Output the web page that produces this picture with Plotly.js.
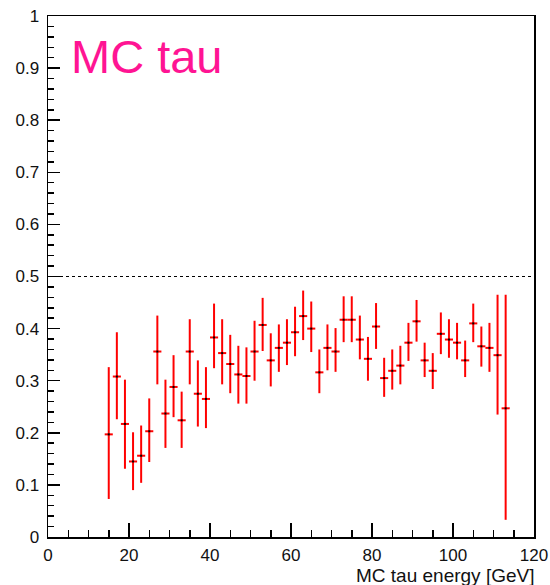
<!DOCTYPE html>
<html>
<head>
<meta charset="utf-8">
<script src="https://cdn.plot.ly/plotly-3.0.1.min.js"></script>
<style>html,body{margin:0;padding:0;background:#fff;}#chart{width:550px;height:585px;}</style>
</head>
<body>
<div id="chart"></div>
<script>
// MC tau energy bin centres [GeV]
var energy = [15,17,19,21,23,25,27,29,31,33,35,37,39,41,43,45,47,49,51,53,55,57,59,61,63,65,67,69,71,73,75,77,79,81,83,85,87,89,91,93,95,97,99,101,103,105,107,109,111,113];
// efficiency values
var eff = [0.197,0.308,0.217,0.145,0.156,0.203,0.356,0.237,0.288,0.224,0.356,0.275,0.265,0.383,0.353,0.332,0.312,0.309,0.356,0.407,0.339,0.363,0.373,0.393,0.424,0.400,0.316,0.363,0.356,0.417,0.417,0.379,0.342,0.404,0.305,0.319,0.329,0.373,0.414,0.339,0.319,0.390,0.379,0.373,0.339,0.410,0.366,0.363,0.349,0.247];
// upper ends of error bars
var effHigh = [0.326,0.393,0.302,0.201,0.214,0.266,0.425,0.302,0.349,0.279,0.418,0.339,0.326,0.448,0.418,0.388,0.367,0.364,0.415,0.459,0.391,0.408,0.418,0.442,0.473,0.452,0.360,0.408,0.401,0.462,0.462,0.425,0.384,0.449,0.344,0.360,0.367,0.411,0.455,0.373,0.353,0.431,0.418,0.411,0.377,0.448,0.404,0.411,0.465,0.465];
// lower ends of error bars
var effLow = [0.073,0.226,0.131,0.090,0.104,0.144,0.293,0.171,0.230,0.171,0.293,0.212,0.209,0.324,0.293,0.276,0.256,0.256,0.300,0.357,0.289,0.317,0.330,0.347,0.378,0.355,0.276,0.320,0.317,0.374,0.374,0.341,0.300,0.361,0.269,0.283,0.293,0.338,0.375,0.307,0.284,0.351,0.344,0.341,0.307,0.374,0.327,0.317,0.235,0.033];
var binHalfWidth = 1;
var refLevel = 0.5;

var errPlus = eff.map(function(v,i){return effHigh[i]-v;});
var errMinus = eff.map(function(v,i){return v-effLow[i];});

var trace = {
  x: energy, y: eff, type: 'scatter', mode: 'markers',
  marker: {symbol: 'square', size: 2, color: '#000'},
  error_x: {type: 'constant', value: binHalfWidth, width: 0, thickness: 2, color: '#ff0000'},
  error_y: {type: 'data', symmetric: false, array: errPlus, arrayminus: errMinus, width: 0, thickness: 2, color: '#ff0000'},
  hoverinfo: 'x+y'
};

var font = {family: '"Liberation Sans", Arial, Helvetica, sans-serif', size: 17, color: '#111'};

var layout = {
  width: 550, height: 585,
  margin: {l: 48, r: 16, t: 16, b: 48, pad: 0},
  paper_bgcolor: '#fff', plot_bgcolor: '#fff',
  showlegend: false,
  font: font,
  xaxis: {
    range: [0, 120], dtick: 20, tick0: 0, ticks: 'inside', ticklen: 14, tickwidth: 1.5, tickcolor: '#000',
    minor: {dtick: 5, ticks: 'inside', ticklen: 7, tickwidth: 1.5, tickcolor: '#000', showgrid: false},
    showline: true, linecolor: '#000', linewidth: 1.5, mirror: true, showgrid: false, zeroline: false,
    tickfont: font, ticklabelstandoff: 2
  },
  yaxis: {
    range: [0, 1], dtick: 0.1, tick0: 0, ticks: 'inside', ticklen: 12, tickwidth: 1.5, tickcolor: '#000',
    minor: {dtick: 0.02, ticks: 'inside', ticklen: 6, tickwidth: 1.5, tickcolor: '#000', showgrid: false},
    showline: true, linecolor: '#000', linewidth: 1.5, mirror: true, showgrid: false, zeroline: false,
    tickfont: font, ticklabelstandoff: 4
  },
  shapes: [{type: 'line', xref: 'paper', x0: 0, x1: 1, yref: 'y', y0: refLevel, y1: refLevel,
            line: {color: '#000', width: 1, dash: '3px,3px'}}],
  annotations: [
    {text: 'MC tau energy [GeV]', xref: 'paper', x: 1.004, xanchor: 'right', yref: 'paper', y: -0.097, yanchor: 'bottom',
     showarrow: false, font: {family: font.family, size: 19, color: '#111'}},
    {text: 'MC tau', xref: 'paper', x: 0.044, xanchor: 'left', yref: 'paper', y: 0.977, yanchor: 'top',
     showarrow: false, font: {family: font.family, size: 47, color: '#ff1493'}}
  ]
};

Plotly.newPlot('chart', [trace], layout, {displayModeBar: false, staticPlot: true});
</script>
</body>
</html>
